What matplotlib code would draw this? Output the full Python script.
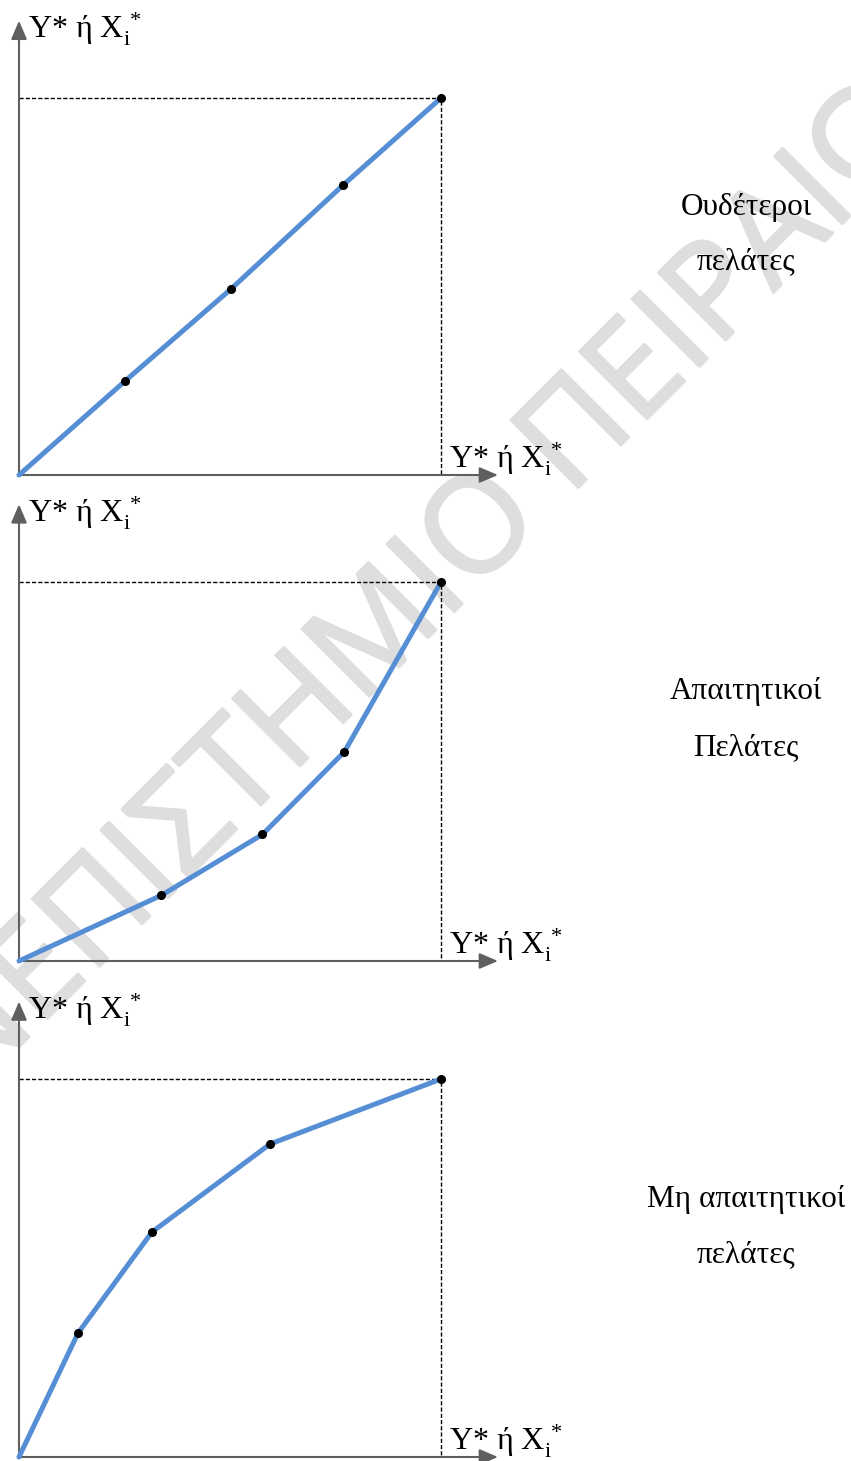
import matplotlib
matplotlib.use("Agg")
import matplotlib.pyplot as plt
import matplotlib.patheffects as pe

plt.rcParams['font.family'] = ['Liberation Serif', 'DejaVu Serif']
plt.rcParams['mathtext.fontset'] = 'custom'
plt.rcParams['mathtext.rm'] = 'Liberation Serif'
plt.rcParams['mathtext.it'] = 'Liberation Serif:italic'

# data (share of the max value on each axis)
neutral_x = [0, 0.251, 0.502, 0.768, 1.0]
neutral_y = [0, 0.249, 0.493, 0.769, 1.0]
demanding_x = [0, 0.337, 0.577, 0.771, 1.0]
demanding_y = [0, 0.173, 0.334, 0.552, 1.0]
lenient_x = [0, 0.140, 0.315, 0.595, 1.0]
lenient_y = [0, 0.328, 0.595, 0.828, 1.0]

axis_label = 'Y* ή X$_{\\mathrm{i}}^{\\,*}$'
panel_names = [['Ουδέτεροι', 'πελάτες'],
               ['Απαιτητικοί', 'Πελάτες'],
               ['Μη απαιτητικοί', 'πελάτες']]
watermark = 'ΠΑΝΕΠΙΣΤΗΜΙΟ ΠΕΙΡΑΙΩΣ'

series = [(neutral_x, neutral_y), (demanding_x, demanding_y), (lenient_x, lenient_y)]

W, H = 851, 1461
fig = plt.figure(figsize=(W / 100, H / 100), dpi=100)

wm_color = '#dedede'
fig.text(0.456, 0.570, watermark, rotation=45, rotation_mode='anchor',
         ha='center', va='center', fontsize=96, color=wm_color,
         family='Open Sans', zorder=-1,
         path_effects=[pe.withStroke(linewidth=2.2, foreground=wm_color,
                                     capstyle='round', joinstyle='round')])

# pixel layout of the three panels
origins = [475, 961, 1457]
tops = [98, 582, 1079]
name_rows = [(207, 262), (692, 748), (1200, 1255)]

axis_color = '#5f5f5f'
blue = '#558ed5'

for i, (xs, ys) in enumerate(series):
    o, t = origins[i], tops[i]
    ax = fig.add_axes([19 / W, (H - o) / H, 422 / W, (o - t) / H])
    ax.set_xlim(0, 1)
    ax.set_ylim(0, 1)
    ax.axis('off')

    # dashed guide lines to the maximum
    ax.plot([0, 1, 1], [1, 1, 0], color='black', lw=1.0,
            linestyle=(0, (3, 1.5)), clip_on=False, zorder=2)

    # axes with arrows
    arrow = dict(arrowstyle='-|>,head_length=0.75,head_width=0.32',
                 color=axis_color, lw=1.5, shrinkA=0, shrinkB=0,
                 mutation_scale=15)
    ax.annotate('', xy=(1.135, 0), xytext=(0, 0), arrowprops=arrow,
                annotation_clip=False)
    ax.annotate('', xy=(0, 1.205), xytext=(0, 0), arrowprops=arrow,
                annotation_clip=False)

    ax.plot(xs, ys, color=blue, lw=3.6, solid_capstyle='round',
            clip_on=False, zorder=3)
    ax.plot(xs[1:], ys[1:], 'o', color='black', ms=5.5, clip_on=False, zorder=4)

    ax.text(0.021, 1.157, axis_label, fontsize=23, va='baseline', ha='left')
    ax.text(1.02, 0.018, axis_label, fontsize=23, va='baseline', ha='left')

    for row, txt in zip(name_rows[i], panel_names[i]):
        fig.text(746 / W, 1 - row / H, txt, ha='center', va='center', fontsize=22.5)

fig.savefig('out.png', dpi=100)
